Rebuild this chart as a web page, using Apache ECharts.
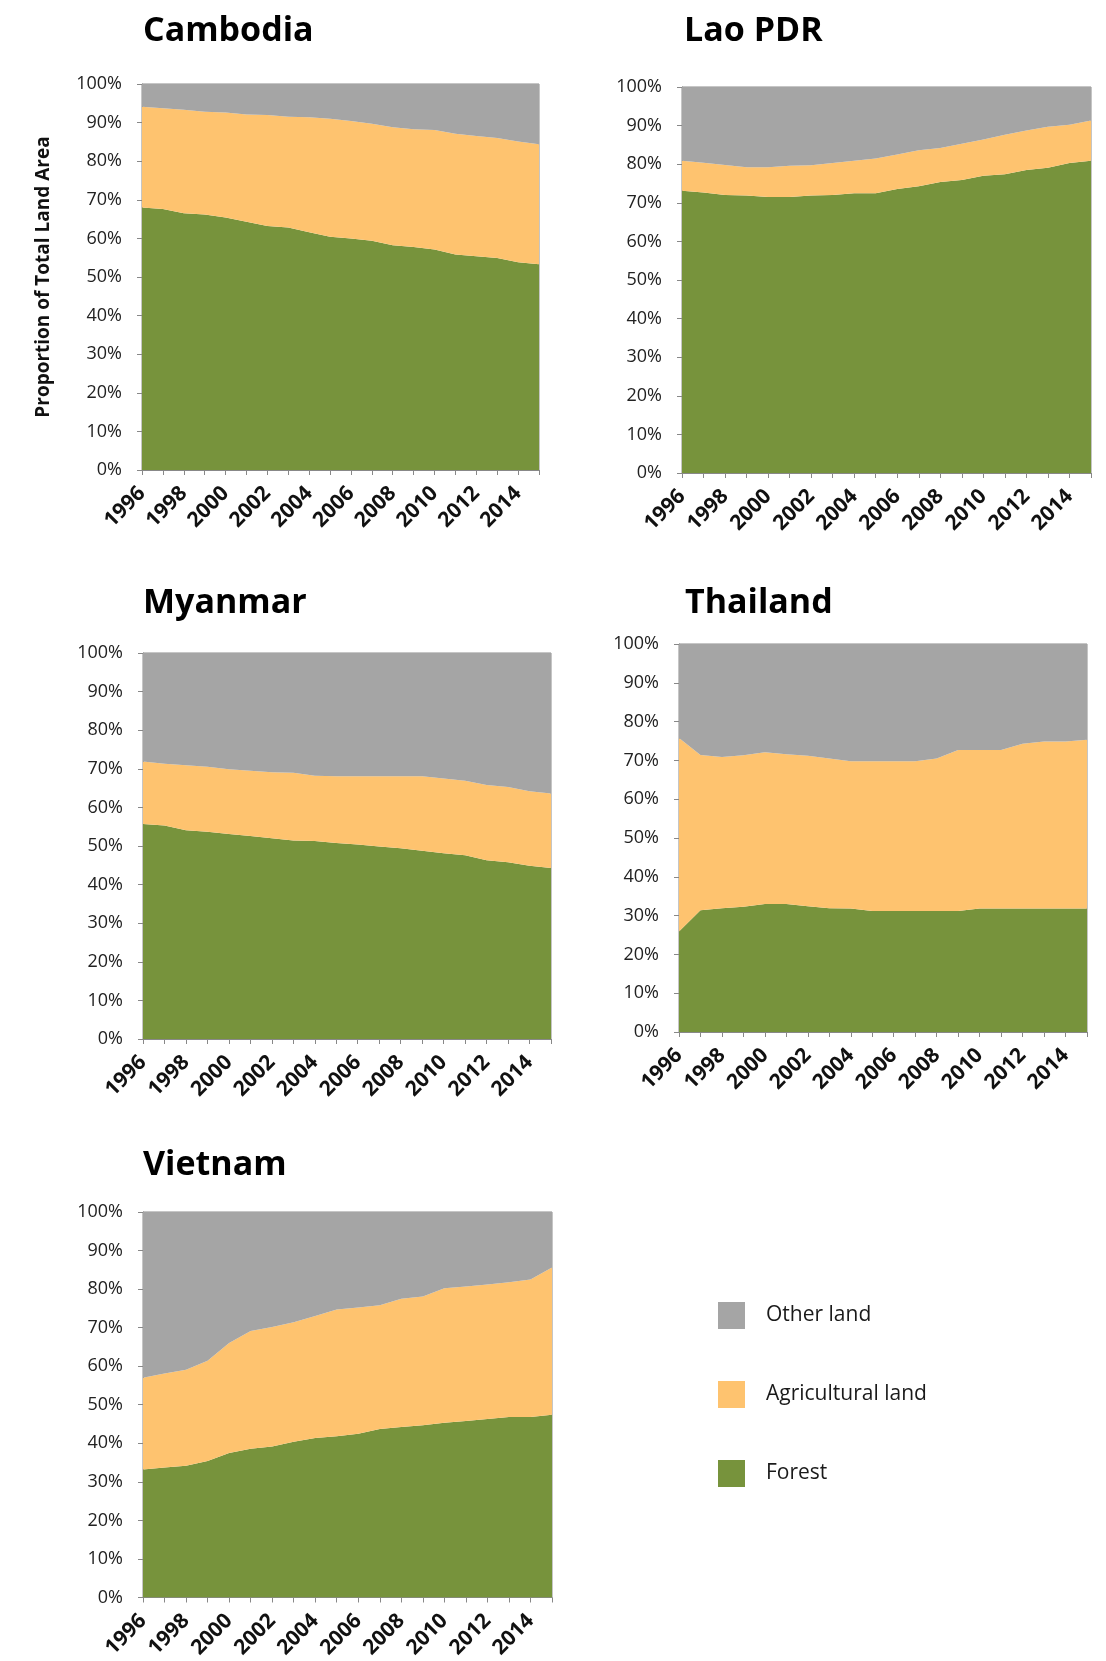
<!DOCTYPE html>
<html>
<head>
<meta charset="utf-8">
<script src="https://cdn.jsdelivr.net/npm/echarts@6/dist/echarts.min.js"></script>
<style>
  html, body { margin: 0; padding: 0; background: #fff; }
  #main { width: 1106px; height: 1661px; }
</style>
</head>
<body>
<div id="main"></div>
<script>
// 年份（类目轴）
var years = ['1996','1997','1998','1999','2000','2001','2002','2003','2004','2005',
             '2006','2007','2008','2009','2010','2011','2012','2013','2014','2015'];

// 各国数据（占土地总面积的百分比）
var cambodiaForest = [68.0,67.6,66.5,66.2,65.4,64.3,63.2,62.8,61.6,60.4,60.0,59.4,58.2,57.8,57.1,55.8,55.4,54.9,53.8,53.3];
var cambodiaAgri   = [26.1,26.1,26.8,26.6,27.2,27.8,28.8,28.7,29.8,30.6,30.4,30.3,30.6,30.5,31.0,31.3,31.1,31.1,31.3,31.1];
var cambodiaOther  = [5.9,6.3,6.7,7.2,7.4,7.9,8.0,8.5,8.6,9.0,9.6,10.3,11.2,11.7,11.9,12.9,13.5,14.0,14.9,15.6];

var laoForest = [73.1,72.7,72.0,71.9,71.5,71.5,71.9,72.0,72.5,72.5,73.6,74.3,75.4,75.9,77.0,77.4,78.5,79.1,80.3,80.9];
var laoAgri   = [7.8,7.7,7.8,7.3,7.7,8.1,7.8,8.3,8.4,9.0,8.9,9.3,8.8,9.4,9.4,10.2,10.2,10.6,9.9,10.4];
var laoOther  = [19.1,19.6,20.2,20.8,20.8,20.4,20.3,19.7,19.1,18.5,17.5,16.4,15.8,14.7,13.6,12.4,11.3,10.3,9.8,8.7];

var myanmarForest = [55.7,55.3,54.1,53.7,53.1,52.6,52.0,51.4,51.3,50.8,50.4,49.9,49.4,48.8,48.1,47.6,46.3,45.8,44.9,44.3];
var myanmarAgri   = [16.2,16.0,16.8,16.8,16.8,16.9,17.1,17.6,16.9,17.3,17.7,18.2,18.7,19.3,19.4,19.3,19.5,19.5,19.3,19.3];
var myanmarOther  = [28.1,28.7,29.1,29.5,30.1,30.5,30.9,31.0,31.8,31.9,31.9,31.9,31.9,31.9,32.5,33.1,34.2,34.7,35.8,36.4];

var thailandForest = [25.9,31.4,31.9,32.3,33.0,33.0,32.4,31.9,31.8,31.2,31.2,31.2,31.2,31.2,31.8,31.8,31.8,31.8,31.8,31.8];
var thailandAgri   = [49.9,40.0,39.0,39.0,39.1,38.6,38.8,38.6,38.0,38.6,38.6,38.6,39.3,41.5,40.9,40.9,42.5,43.1,43.1,43.5];
var thailandOther  = [24.2,28.6,29.1,28.7,27.9,28.4,28.8,29.5,30.2,30.2,30.2,30.2,29.5,27.3,27.3,27.3,25.7,25.1,25.1,24.7];

var vietnamForest = [33.2,33.7,34.2,35.4,37.5,38.6,39.2,40.4,41.4,41.8,42.5,43.7,44.2,44.7,45.3,45.8,46.3,46.8,46.8,47.4];
var vietnamAgri   = [23.8,24.4,24.9,26.0,28.5,30.5,31.0,31.0,31.6,32.9,32.7,32.1,33.3,33.4,34.9,34.9,34.9,35.0,35.7,38.2];
var vietnamOther  = [43.0,41.9,40.9,38.6,34.0,30.9,29.8,28.6,27.0,25.3,24.8,24.2,22.5,21.9,19.8,19.3,18.8,18.2,17.5,14.4];

var countries = ['Cambodia', 'Lao PDR', 'Myanmar', 'Thailand', 'Vietnam'];
var seriesNames = ['Forest', 'Agricultural land', 'Other land'];

// 配色
var colors = {
  'Forest': '#77933c',
  'Agricultural land': '#fec36f',
  'Other land': '#a5a5a5'
};

// 每个小图的位置
var grids = [
  { left: 142, top: 84,   width: 397, height: 386 },
  { left: 682, top: 87,   width: 409, height: 386 },
  { left: 143, top: 653,  width: 408, height: 386 },
  { left: 679, top: 644,  width: 408, height: 388 },
  { left: 143, top: 1212, width: 409, height: 386 }
];
var titlePos = [
  { left: 143, top: 14 },
  { left: 684, top: 14 },
  { left: 143, top: 586 },
  { left: 685, top: 586 },
  { left: 143, top: 1148 }
];

var dataSets = [
  [cambodiaForest, cambodiaAgri, cambodiaOther],
  [laoForest, laoAgri, laoOther],
  [myanmarForest, myanmarAgri, myanmarOther],
  [thailandForest, thailandAgri, thailandOther],
  [vietnamForest, vietnamAgri, vietnamOther]
];

var fontFamily = '"Open Sans", "Noto Sans", sans-serif';

var titles = [], gridList = [], xAxes = [], yAxes = [], series = [];

countries.forEach(function (name, i) {
  titles.push({
    text: name,
    left: titlePos[i].left,
    top: titlePos[i].top,
    padding: 0,
    textStyle: { fontFamily: fontFamily, fontSize: 34, fontWeight: 'bold', color: '#000' }
  });

  gridList.push({
    left: grids[i].left,
    top: grids[i].top,
    width: grids[i].width,
    height: grids[i].height,
    show: true,
    borderColor: '#8c8c8c',
    borderWidth: 1,
    backgroundColor: 'transparent'
  });

  xAxes.push({
    type: 'category',
    gridIndex: i,
    data: years,
    boundaryGap: false,
    axisLine: { lineStyle: { color: '#888', width: 1 } },
    axisTick: { show: true, interval: 0, length: 5, lineStyle: { color: '#888' } },
    axisLabel: {
      interval: 1,
      rotate: 45,
      margin: 20,
      fontFamily: fontFamily,
      fontSize: 21,
      fontWeight: 'bold',
      color: '#111'
    },
    splitLine: { show: false }
  });

  var yAxis = {
    type: 'value',
    gridIndex: i,
    min: 0,
    max: 100,
    interval: 10,
    axisLine: { show: true, lineStyle: { color: '#888', width: 1 } },
    axisTick: { show: true, length: 5, lineStyle: { color: '#888' } },
    axisLabel: {
      formatter: '{value}%',
      margin: 20,
      fontFamily: fontFamily,
      fontSize: 18,
      color: '#222'
    },
    splitLine: { show: false }
  };
  // 只有第一个图显示纵轴名称
  if (i === 0) {
    yAxis.name = 'Proportion of Total Land Area';
    yAxis.nameLocation = 'middle';
    yAxis.nameGap = 89;
    yAxis.nameTextStyle = { fontFamily: fontFamily, fontSize: 19, fontWeight: 'bold', color: '#111' };
  }
  yAxes.push(yAxis);

  seriesNames.forEach(function (sName, k) {
    series.push({
      name: sName,
      type: 'line',
      xAxisIndex: i,
      yAxisIndex: i,
      stack: 'stack' + i,
      data: dataSets[i][k],
      symbol: 'none',
      showSymbol: false,
      lineStyle: { width: 0, opacity: 0 },
      areaStyle: { color: colors[sName], opacity: 1 },
      itemStyle: { color: colors[sName] },
      emphasis: { disabled: true }
    });
  });
});

var chart = echarts.init(document.getElementById('main'), null, { renderer: 'canvas' });
chart.setOption({
  animation: false,
  backgroundColor: '#fff',
  title: titles,
  grid: gridList,
  xAxis: xAxes,
  yAxis: yAxes,
  legend: {
    orient: 'vertical',
    left: 718,
    top: 1302,
    padding: 0,
    itemWidth: 27,
    itemHeight: 27,
    itemGap: 52,
    icon: 'rect',
    data: ['Other land', 'Agricultural land', 'Forest'],
    textStyle: { fontFamily: fontFamily, fontSize: 21, color: '#1a1a1a', padding: [0, 0, 0, 16] }
  },
  series: series
});
</script>
</body>
</html>
